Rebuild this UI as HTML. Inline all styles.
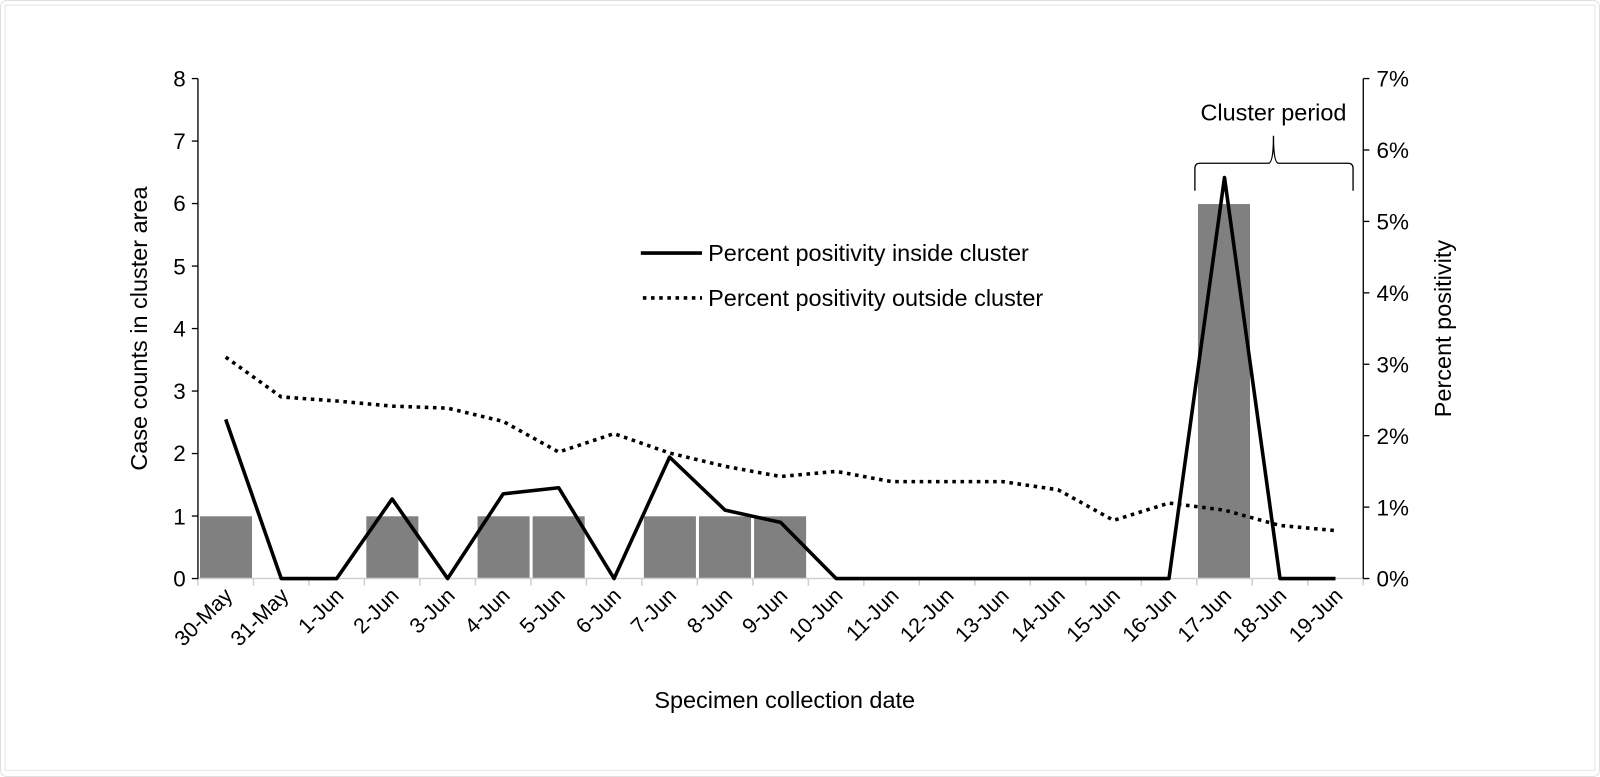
<!DOCTYPE html>
<html><head><meta charset="utf-8"><style>
html,body{margin:0;padding:0;background:#fff;}
svg{display:block;font-family:"Liberation Sans",sans-serif;}
</style></head><body>
<svg width="1600" height="777" viewBox="0 0 1568 761.5" preserveAspectRatio="none">
<rect x="0.5" y="0.5" width="1567" height="760.5" fill="#fff" stroke="#e0e0e0" rx="6"/>
<rect x="5" y="5" width="1558" height="750" fill="#fff" stroke="#e6e6e6"/>
<g fill="#808080">
<rect x="196" y="506" width="51" height="61"/>
<rect x="359" y="506" width="51" height="61"/>
<rect x="468" y="506" width="51" height="61"/>
<rect x="522" y="506" width="51" height="61"/>
<rect x="631" y="506" width="51" height="61"/>
<rect x="685" y="506" width="51" height="61"/>
<rect x="739" y="506" width="51" height="61"/>
<rect x="1174" y="200" width="51" height="367"/>
</g>
<line x1="194" y1="567" x2="1336" y2="567" stroke="#d0d0d0" stroke-width="1.5"/>
<g stroke="#d0d0d0" stroke-width="1.5">
<line x1="194" y1="567" x2="194" y2="574"/><line x1="248.4" y1="567" x2="248.4" y2="574"/><line x1="302.8" y1="567" x2="302.8" y2="574"/><line x1="357.1" y1="567" x2="357.1" y2="574"/><line x1="411.5" y1="567" x2="411.5" y2="574"/><line x1="465.9" y1="567" x2="465.9" y2="574"/><line x1="520.3" y1="567" x2="520.3" y2="574"/><line x1="574.7" y1="567" x2="574.7" y2="574"/><line x1="629" y1="567" x2="629" y2="574"/><line x1="683.4" y1="567" x2="683.4" y2="574"/><line x1="737.8" y1="567" x2="737.8" y2="574"/><line x1="792.2" y1="567" x2="792.2" y2="574"/><line x1="846.6" y1="567" x2="846.6" y2="574"/><line x1="900.9" y1="567" x2="900.9" y2="574"/><line x1="955.3" y1="567" x2="955.3" y2="574"/><line x1="1009.7" y1="567" x2="1009.7" y2="574"/><line x1="1064.1" y1="567" x2="1064.1" y2="574"/><line x1="1118.5" y1="567" x2="1118.5" y2="574"/><line x1="1172.8" y1="567" x2="1172.8" y2="574"/><line x1="1227.2" y1="567" x2="1227.2" y2="574"/><line x1="1281.6" y1="567" x2="1281.6" y2="574"/><line x1="1336" y1="567" x2="1336" y2="574"/>
</g>
<g stroke="#000" stroke-width="1.3">
<line x1="194" y1="77" x2="194" y2="567"/>
<line x1="188" y1="77" x2="194" y2="77"/><line x1="188" y1="138.25" x2="194" y2="138.25"/><line x1="188" y1="199.5" x2="194" y2="199.5"/><line x1="188" y1="260.75" x2="194" y2="260.75"/><line x1="188" y1="322" x2="194" y2="322"/><line x1="188" y1="383.25" x2="194" y2="383.25"/><line x1="188" y1="444.5" x2="194" y2="444.5"/><line x1="188" y1="505.75" x2="194" y2="505.75"/><line x1="188" y1="567" x2="194" y2="567"/>
</g>
<g font-size="22" text-anchor="end" fill="#000">
<text x="182" y="85">8</text><text x="182" y="146">7</text><text x="182" y="207">6</text><text x="182" y="269">5</text><text x="182" y="330">4</text><text x="182" y="391">3</text><text x="182" y="452">2</text><text x="182" y="514">1</text><text x="182" y="575">0</text>
</g>
<g stroke="#000" stroke-width="1.3">
<line x1="1336" y1="77" x2="1336" y2="567"/>
<line x1="1336" y1="77" x2="1342" y2="77"/><line x1="1336" y1="147" x2="1342" y2="147"/><line x1="1336" y1="217" x2="1342" y2="217"/><line x1="1336" y1="287" x2="1342" y2="287"/><line x1="1336" y1="357" x2="1342" y2="357"/><line x1="1336" y1="427" x2="1342" y2="427"/><line x1="1336" y1="497" x2="1342" y2="497"/><line x1="1336" y1="567" x2="1342" y2="567"/>
</g>
<g font-size="22" fill="#000">
<text x="1349" y="85">7%</text><text x="1349" y="155">6%</text><text x="1349" y="225">5%</text><text x="1349" y="295">4%</text><text x="1349" y="365">3%</text><text x="1349" y="435">2%</text><text x="1349" y="505">1%</text><text x="1349" y="575">0%</text>
</g>
<g font-size="21" text-anchor="end" fill="#000">
<text transform="translate(229,585) rotate(-45)">30-May</text>
<text transform="translate(284,585) rotate(-45)">31-May</text>
<text transform="translate(338,585) rotate(-45)">1-Jun</text>
<text transform="translate(392,585) rotate(-45)">2-Jun</text>
<text transform="translate(447,585) rotate(-45)">3-Jun</text>
<text transform="translate(501,585) rotate(-45)">4-Jun</text>
<text transform="translate(555,585) rotate(-45)">5-Jun</text>
<text transform="translate(610,585) rotate(-45)">6-Jun</text>
<text transform="translate(664,585) rotate(-45)">7-Jun</text>
<text transform="translate(719,585) rotate(-45)">8-Jun</text>
<text transform="translate(773,585) rotate(-45)">9-Jun</text>
<text transform="translate(827,585) rotate(-45)">10-Jun</text>
<text transform="translate(882,585) rotate(-45)">11-Jun</text>
<text transform="translate(936,585) rotate(-45)">12-Jun</text>
<text transform="translate(990,585) rotate(-45)">13-Jun</text>
<text transform="translate(1045,585) rotate(-45)">14-Jun</text>
<text transform="translate(1099,585) rotate(-45)">15-Jun</text>
<text transform="translate(1154,585) rotate(-45)">16-Jun</text>
<text transform="translate(1208,585) rotate(-45)">17-Jun</text>
<text transform="translate(1262,585) rotate(-45)">18-Jun</text>
<text transform="translate(1317,585) rotate(-45)">19-Jun</text>
</g>
<text x="769" y="694" font-size="23" text-anchor="middle">Specimen collection date</text>
<text transform="translate(144,322) rotate(-90)" font-size="23" text-anchor="middle">Case counts in cluster area</text>
<text transform="translate(1422,322) rotate(-90)" font-size="23" text-anchor="middle">Percent positivity</text>
<polyline fill="none" stroke="#000" stroke-width="3.5" stroke-dasharray="3.5,4.5" stroke-linejoin="round"
points="221.2,350 275.6,389 329.9,393 384.3,398 438.7,400 493.1,413 547.5,443 601.8,425 656.2,444 710.6,457 765,467 819.4,462 873.7,472 928.1,472 982.5,472 1036.9,480 1091.3,510 1145.6,493 1200,500 1254.4,515 1308.8,520"/>
<polyline fill="none" stroke="#000" stroke-width="3.5" stroke-linejoin="round"
points="221.2,411 275.6,567 329.9,567 384.3,489 438.7,567 493.1,484 547.5,478 601.8,567 656.2,448 710.6,500 765,512 819.4,567 873.7,567 928.1,567 982.5,567 1036.9,567 1091.3,567 1145.6,567 1200,174 1254.4,567 1308.8,567"/>
<line x1="628" y1="248" x2="688" y2="248" stroke="#000" stroke-width="3.5"/>
<text x="694" y="256" font-size="23">Percent positivity inside cluster</text>
<line x1="630" y1="292" x2="688" y2="292" stroke="#000" stroke-width="3.5" stroke-dasharray="3.5,4.5"/>
<text x="694" y="300" font-size="23">Percent positivity outside cluster</text>
<path d="M1171,187 L1171,165 Q1171,160 1176,160 L1243,160 Q1248,160 1248,133 Q1248,160 1253,160 L1321,160 Q1326,160 1326,165 L1326,187" fill="none" stroke="#000" stroke-width="1.3"/>
<text x="1248" y="118" font-size="23" text-anchor="middle">Cluster period</text>
</svg>
</body></html>
